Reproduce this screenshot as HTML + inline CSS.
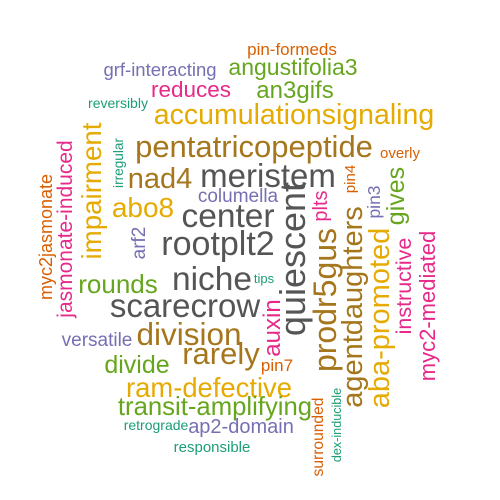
<!DOCTYPE html>
<html><head><meta charset="utf-8"><style>
html,body{margin:0;padding:0;background:#fff;}
svg{display:block;}
text{font-family:"Liberation Sans",Arial,sans-serif;}
</style></head><body>
<svg id="cloud" width="500" height="500" viewBox="0 0 500 500" xmlns="http://www.w3.org/2000/svg"></svg>
<script>
const words = ["pin-formeds","grf-interacting","angustifolia3","reduces","an3gifs","reversibly","accumulationsignaling","pentatricopeptide","overly","meristem","nad4","columella","abo8","center","rootplt2","niche","tips","rounds","scarecrow","division","versatile","rarely","pin7","divide","ram-defective","transit-amplifying","retrograde","ap2-domain","responsible",
"quiescent","prodr5gus","agentdaughters","aba-promoted","plts","pin4","pin3","gives","instructive","myc2-mediated","auxin","surrounded","dex-inducible","impairment","jasmonate-induced","myc2jasmonate","irregular","arf2"];
const sizes = [17,18.5,23,22.5,24,14,28.5,31,15,33,29,19,28,33.5,34,33.5,13,26,33,31.5,19,31,17,25,27.4,25.7,14,20,15,
36,32,29,29,20,15,17.5,25,21.5,22,24,15.6,12.6,27.7,21,18,13.6,19];
const groups = ["o","p","g","k","g","t","y","b","o","d","b","p","y","d","d","d","t","g","d","b","p","b","o","g","y","g","t","p","t",
"d","b","b","y","k","o","p","g","k","k","k","o","t","y","k","o","t","p"];
const palette = {d:"#555555",b:"#a6761d",y:"#e6ab02",g:"#66a61e",k:"#e7298a",p:"#7570b3",t:"#1b9e77",o:"#d95f02"};
// layout: [x, y, rotated]
const layoutX = [292,160,293,191,295,118,294,254,400,268,160,238,143,228,218,212,264,118,185,189,97,221,277,137,209,215,156,241,212,
305,336,362,389,327,355,380,404,411,435,280,323,341,101,72,52,123,145];
const layoutY = [55,76,75,97,98,108,124,157,158,187,188,202,217,227,255,290,283,293,317,345,346,364,371,373,397,415,430,433,452,
259,300,307,318,206,179,202,196,286,306,328,437,425,191,229,237,163,243];
const rotated = [0,0,0,0,0,0,0,0,0,0,0,0,0,0,0,0,0,0,0,0,0,0,0,0,0,0,0,0,0,
1,1,1,1,1,1,1,1,1,1,1,1,1,1,1,1,1,1];
const svg = document.getElementById('cloud');
const NS = "http://www.w3.org/2000/svg";
for (let i = 0; i < words.length; i++) {
  const t = document.createElementNS(NS, 'text');
  
  
  t.setAttribute('text-anchor', 'middle');
  t.setAttribute('font-size', sizes[i]);
  t.setAttribute('fill', palette[groups[i]]);
  t.setAttribute('x', layoutX[i]);
  t.setAttribute('y', layoutY[i]);
  if (rotated[i]) t.setAttribute('transform', 'rotate(-90 ' + layoutX[i] + ' ' + layoutY[i] + ')');
  t.textContent = words[i];
  svg.appendChild(t);
}
</script>
</body></html>
